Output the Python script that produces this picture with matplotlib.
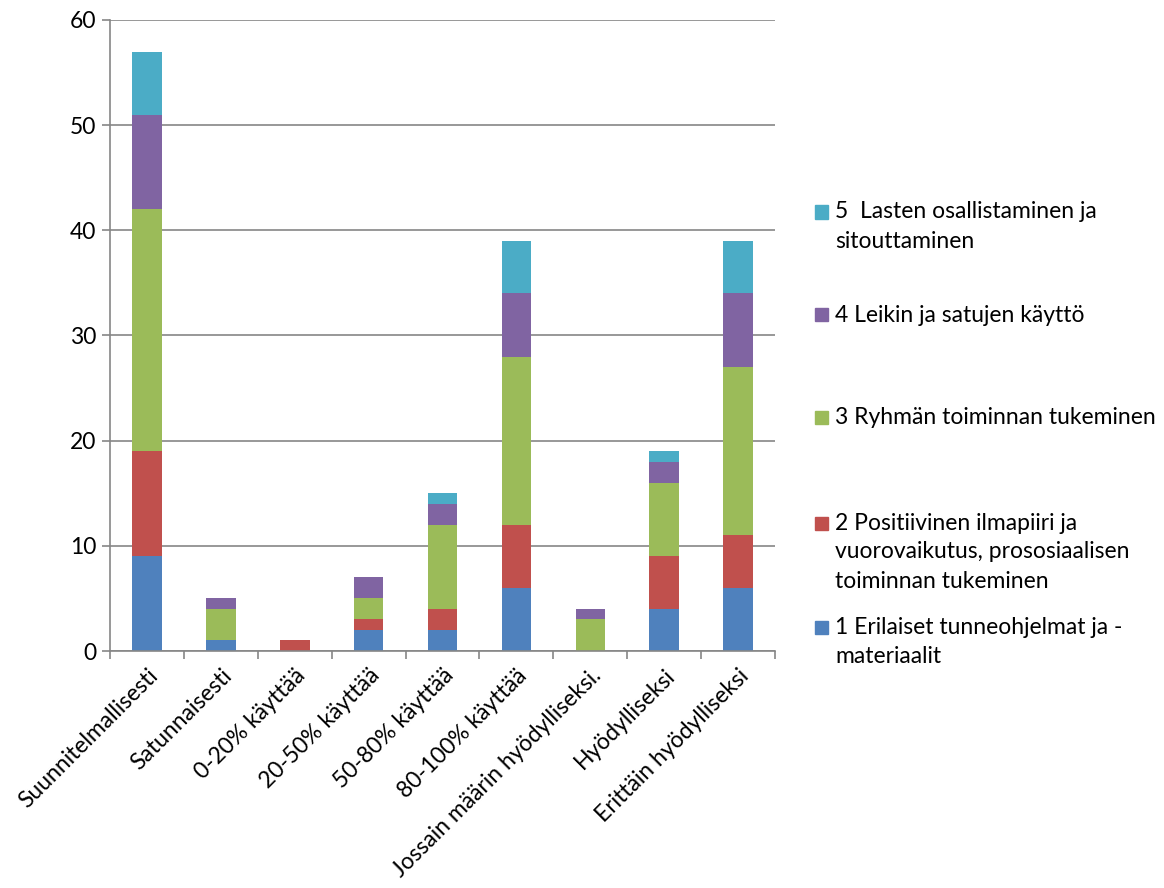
import matplotlib
matplotlib.use("Agg")
import numpy as np
import matplotlib.pyplot as plt
from matplotlib.patches import Rectangle

plt.rcParams["font.family"] = ["Lato", "DejaVu Sans"]

categories = [
    "Suunnitelmallisesti", "Satunnaisesti", "0-20% käyttää", "20-50% käyttää",
    "50-80% käyttää", "80-100% käyttää", "Jossain määrin hyödylliseksi.",
    "Hyödylliseksi", "Erittäin hyödylliseksi",
]

s1 = [9, 1, 0, 2, 2, 6, 0, 4, 6]      # 1 Erilaiset tunneohjelmat ja -materiaalit
s2 = [10, 0, 1, 1, 2, 6, 0, 5, 5]     # 2 Positiivinen ilmapiiri ...
s3 = [23, 3, 0, 2, 8, 16, 3, 7, 16]   # 3 Ryhmän toiminnan tukeminen
s4 = [9, 1, 0, 2, 2, 6, 1, 2, 7]      # 4 Leikin ja satujen käyttö
s5 = [6, 0, 0, 0, 1, 5, 0, 1, 5]      # 5 Lasten osallistaminen ja sitouttaminen

series = [s1, s2, s3, s4, s5]
colors = ["#4F81BD", "#C0504D", "#9BBB59", "#8064A2", "#4BACC6"]

legend_lines = [
    ["1 Erilaiset tunneohjelmat ja -", "materiaalit"],
    ["2 Positiivinen ilmapiiri ja", "vuorovaikutus, prososiaalisen", "toiminnan tukeminen"],
    ["3 Ryhmän toiminnan tukeminen"],
    ["4 Leikin ja satujen käyttö"],
    ["5  Lasten osallistaminen ja", "sitouttaminen"],
]

FS = 16.5
W, H = 1164, 888
fig = plt.figure(figsize=(W / 100, H / 100), dpi=100)
ax = fig.add_axes([110 / W, 1 - 651 / H, (775 - 110) / W, (651 - 20) / H])

x = np.arange(len(categories))
bottom = np.zeros(len(categories))
for vals, c in zip(series, colors):
    ax.bar(x, vals, width=0.4, bottom=bottom, color=c, edgecolor="none", zorder=3)
    bottom += np.array(vals)

grid_c = "#868686"
ax.set_xlim(-0.5, len(categories) - 0.5)
ax.set_ylim(0, 60)
ax.set_yticks(range(0, 61, 10))
ax.yaxis.grid(True, color=grid_c, linewidth=1.2, zorder=0)
for s in ["top", "right"]:
    ax.spines[s].set_visible(False)
for s in ["left", "bottom"]:
    ax.spines[s].set_color(grid_c)
    ax.spines[s].set_linewidth(1.2)
    ax.spines[s].set_zorder(4)

ax.set_xticks(np.arange(-0.5, len(categories) + 0.5, 1))
ax.set_xticklabels([])
ax.set_xticks(x, minor=True)
ax.set_xticklabels(categories, minor=True, rotation=45, ha="right",
                   rotation_mode="anchor", fontsize=FS)
ax.tick_params(axis="x", which="minor", length=0, pad=10)
ax.tick_params(axis="x", which="major", length=6, width=1.2, color=grid_c)
ax.tick_params(axis="y", length=6, width=1.2, color=grid_c, labelsize=FS, pad=4)

# legend drawn as a column on the right
first_line_y = {5: 212, 4: 315, 3: 418, 2: 523, 1: 627}
for i, (lines, c) in enumerate(zip(legend_lines, colors)):
    y0 = first_line_y[i + 1]
    fig.add_artist(Rectangle((815 / W, 1 - (y0 + 6.5) / H), 13 / W, 13 / H,
                             transform=fig.transFigure, color=c))
    for k, line in enumerate(lines):
        fig.text(835 / W, 1 - (y0 + 29 * k) / H, line, fontsize=FS, va="center", ha="left")

fig.savefig("out.png", dpi=100)
